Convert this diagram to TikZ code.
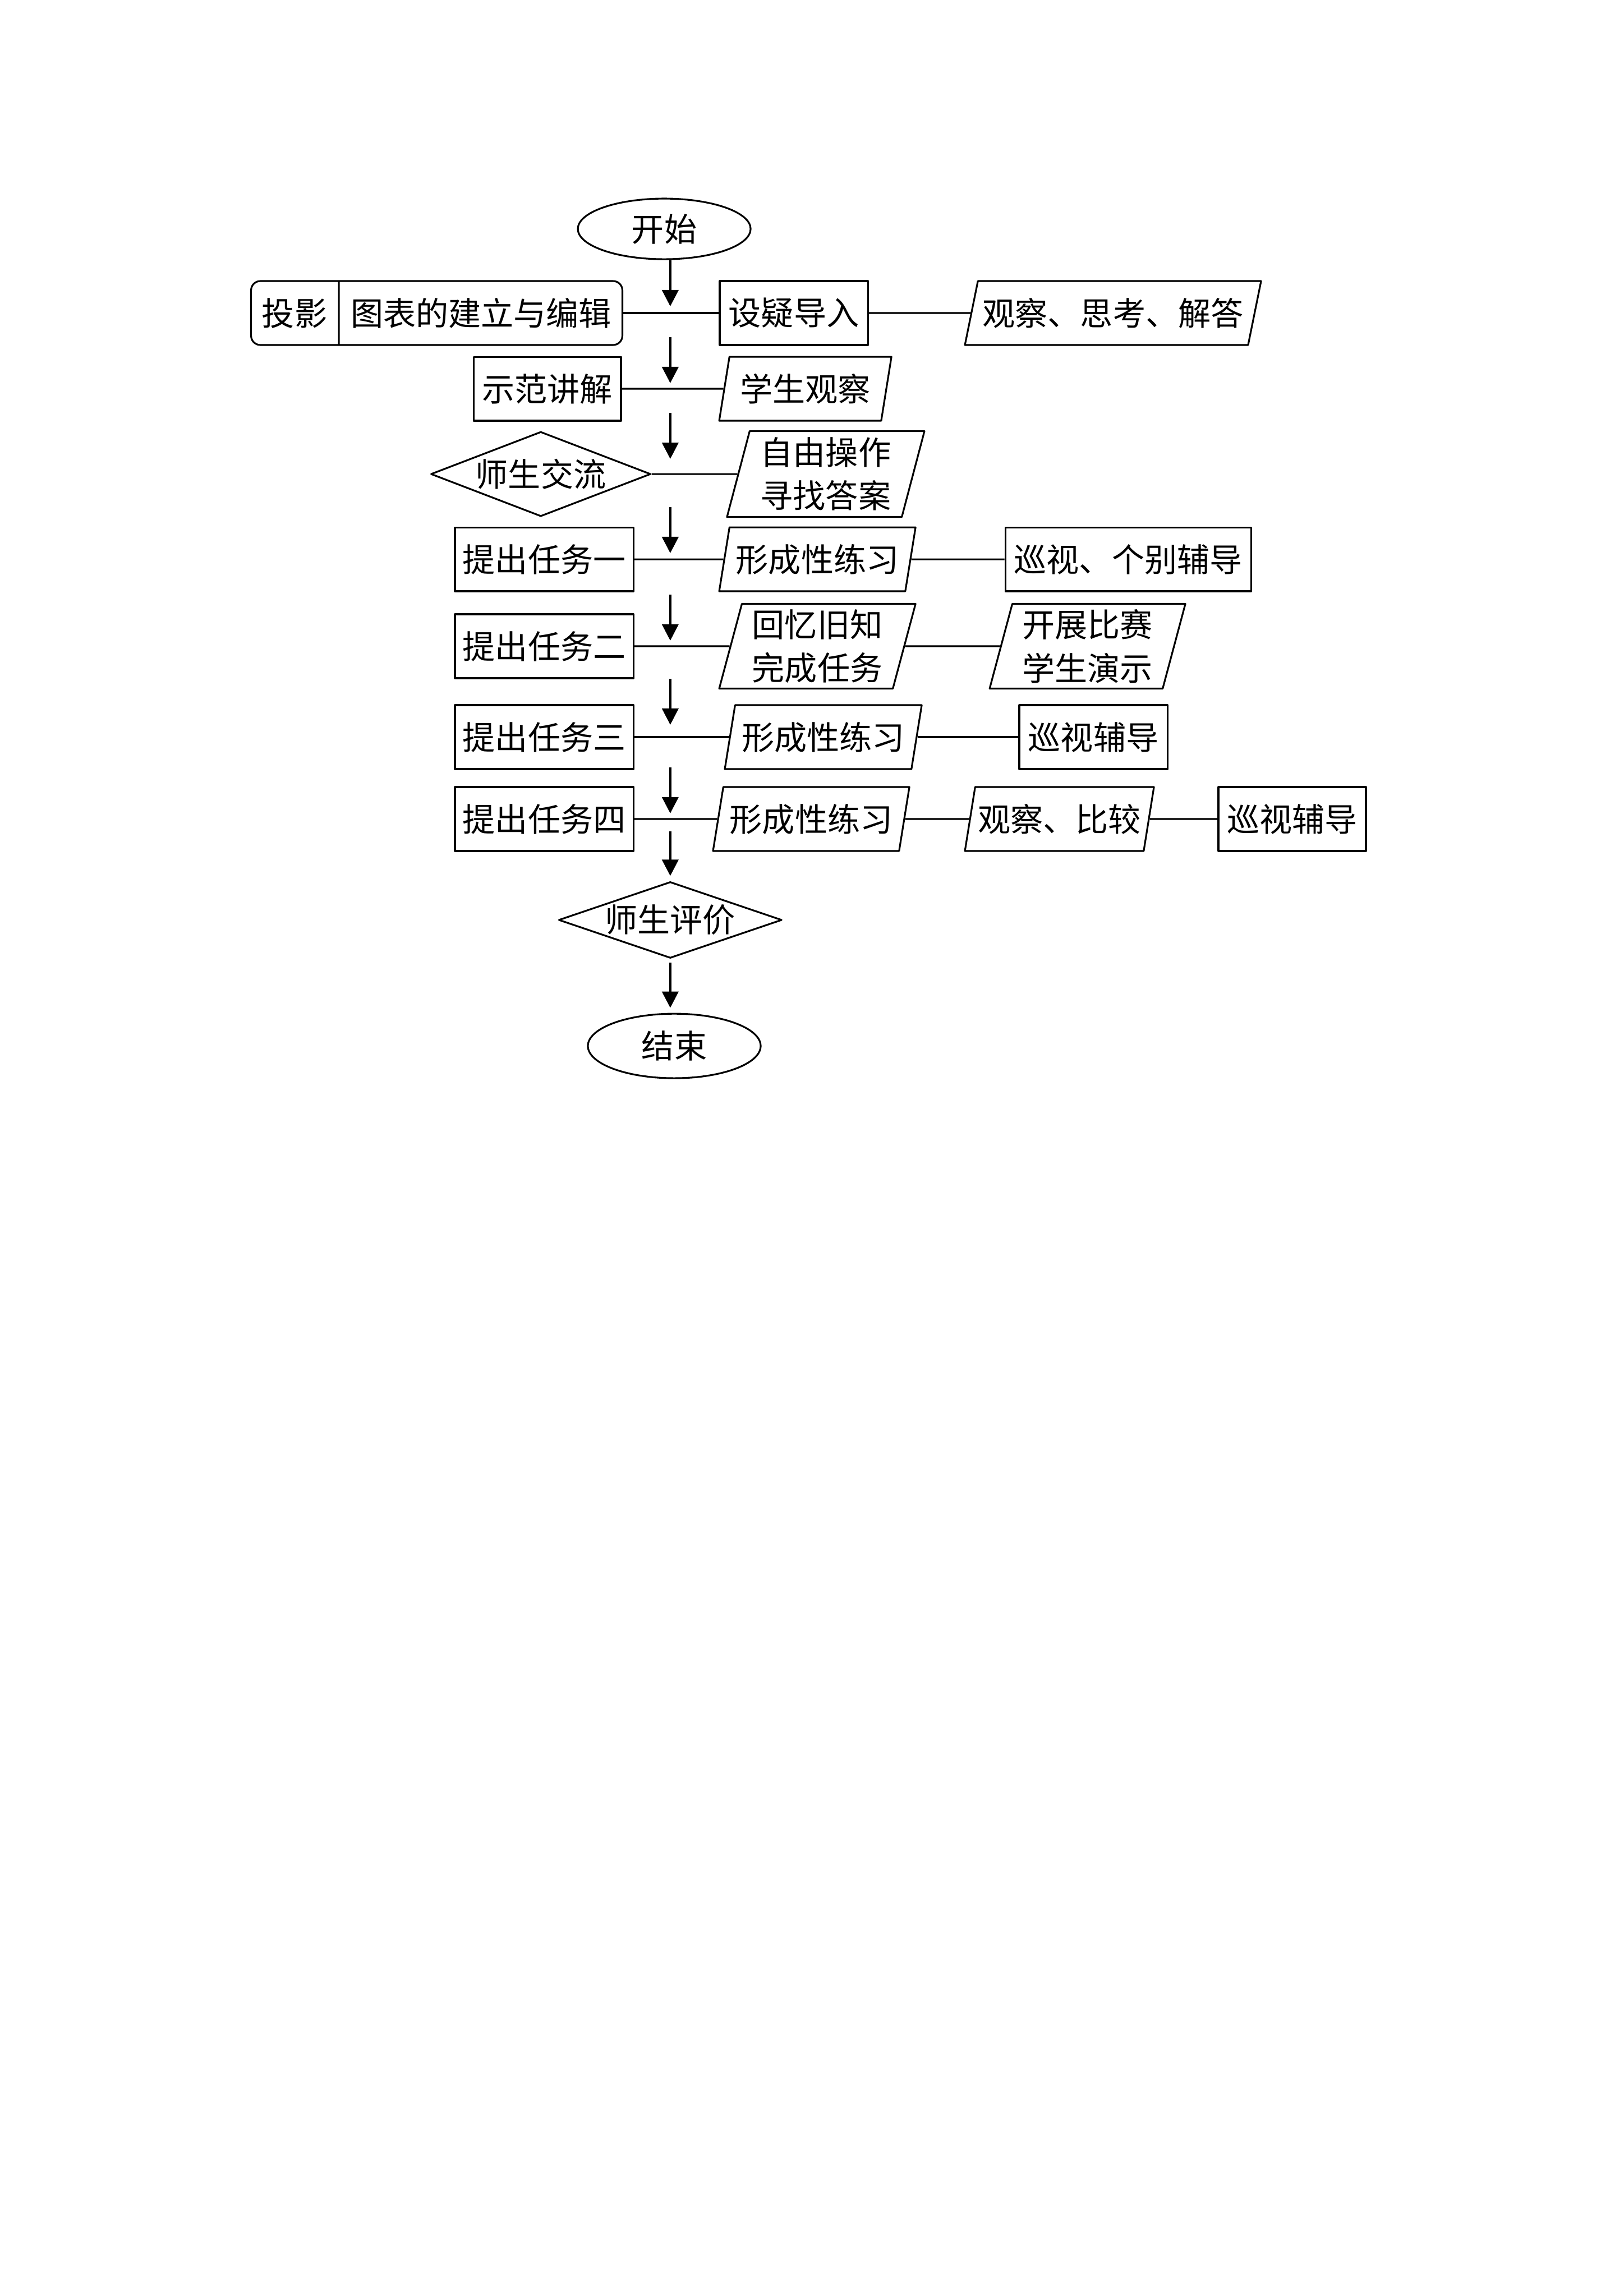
\documentclass[tikz,border=0pt]{standalone}
\usepackage{fontspec}
\setmainfont{Noto Sans CJK SC}
\usetikzlibrary{shapes.geometric,shapes.multipart,arrows.meta}
\begin{document}
\begin{tikzpicture}[>={Triangle[length=6pt,width=6pt]}, font=\fontsize{12}{16}\selectfont, line join=round, line width=0.65pt,
 kbox/.style={draw, rectangle, minimum height=0.827cm, inner sep=2pt},
 pbox/.style={draw, trapezium, trapezium left angle=74, trapezium right angle=106, trapezium stretches body, minimum height=0.827cm, inner sep=1pt, align=center},
 dbox/.style={draw, diamond, inner sep=0pt},
 tbox/.style={draw, ellipse, minimum width=2.235cm, inner sep=0pt},
 flow/.style={->, line width=0.85pt}]
 \useasboundingbox (0,0) rectangle (21,-29.7);
 \def\ax{8.67} % 主轴
 \node[tbox, minimum height=0.784cm] (start) at (8.592,-2.961) {开始};
 % 第一行
 \node[draw, rectangle split, rectangle split horizontal, rectangle split parts=2, rounded corners=1.2mm, minimum height=0.827cm, inner xsep=4pt] (proj) at (5.649,-4.049) {投影\nodepart{two}图表的建立与编辑};
 \node[kbox, minimum width=1.916cm] (intro) at (10.268,-4.049) {设疑导入};
 \node[pbox, trapezium left angle=70, trapezium right angle=110, minimum width=3.831cm] (obs1) at (14.397,-4.049) {观察、思考、解答};
 % 第二、三行
 \node[kbox, minimum width=1.908cm] (demo) at (7.079,-5.029) {示范讲解};
 \node[pbox, minimum width=2.228cm] (watch) at (10.417,-5.029) {学生观察};
 \node[dbox, minimum width=2.845cm, minimum height=1.096cm, aspect=2.6] (talk) at (6.995,-6.132) {师生交流};
 \node[pbox, minimum width=2.554cm, minimum height=1.110cm] (explore) at (10.681,-6.132) {自由操作\\寻找答案};
 % 任务
 \foreach \i/\t/\y in {1/一/-7.235, 2/二/-8.359, 3/三/-9.535, 4/四/-10.594}
 \node[kbox, minimum width=2.308cm] (task\i) at (7.039,\y) {提出任务\t};
 \node[pbox, minimum width=2.540cm] (prac1) at (10.573,-7.235) {形成性练习};
 \node[kbox, minimum width=3.178cm] (tour1) at (14.593,-7.235) {巡视、个别辅导};
 \node[pbox, minimum width=2.540cm, minimum height=1.096cm] (recall) at (10.573,-8.359) {回忆旧知\\完成任务};
 \node[pbox, minimum width=2.532cm, minimum height=1.096cm] (contest) at (14.067,-8.359) {开展比赛\\学生演示};
 \node[pbox, minimum width=2.547cm] (prac3) at (10.649,-9.535) {形成性练习};
 \node[kbox, minimum width=1.916cm] (tour3) at (14.143,-9.535) {巡视辅导};
 \node[pbox, minimum width=2.540cm] (prac4) at (10.493,-10.594) {形成性练习};
 \node[pbox, minimum width=2.445cm] (compare) at (13.704,-10.594) {观察、比较};
 \node[kbox, minimum width=1.908cm] (tour4) at (16.715,-10.594) {巡视辅导};
 \node[dbox, minimum width=2.888cm, minimum height=0.987cm, aspect=2.93] (assess) at (\ax,-11.9) {师生评价};
 \node[tbox, minimum height=0.834cm] (end) at (8.722,-13.53) {结束};
 \foreach \i/\y in {1/-4.049, 2/-5.029, 3/-6.132, 4/-7.235, 5/-8.359, 6/-9.535, 7/-10.594}
 \coordinate (j\i) at (\ax,\y);
 % 连线
 \foreach \a/\b in {proj/intro, intro/obs1, demo/watch, talk/explore, task1/prac1, prac1/tour1, task2/recall, recall/contest, task3/prac3, prac3/tour3, task4/prac4, prac4/compare, compare/tour4}
 \draw (\a.east) -- (\b.west);
 \draw[flow] (start.south -| j1) -- ([yshift=0.087cm]j1);
 \foreach \b/\g in {j2/0.073cm, j3/0.196cm, j4/0.08cm, j5/0.073cm, j6/0.16cm, j7/0.073cm}
 \draw[flow] ([yshift=\g+0.595cm]\b) -- ([yshift=\g]\b);
 \draw[flow] ([yshift=-0.16cm]j7) -- ([yshift=0.065cm]assess.north);
 \draw[flow] ([yshift=-0.05cm]assess.south) -- ([yshift=0.065cm]assess.south |- end.north);
\end{tikzpicture}
\end{document}
